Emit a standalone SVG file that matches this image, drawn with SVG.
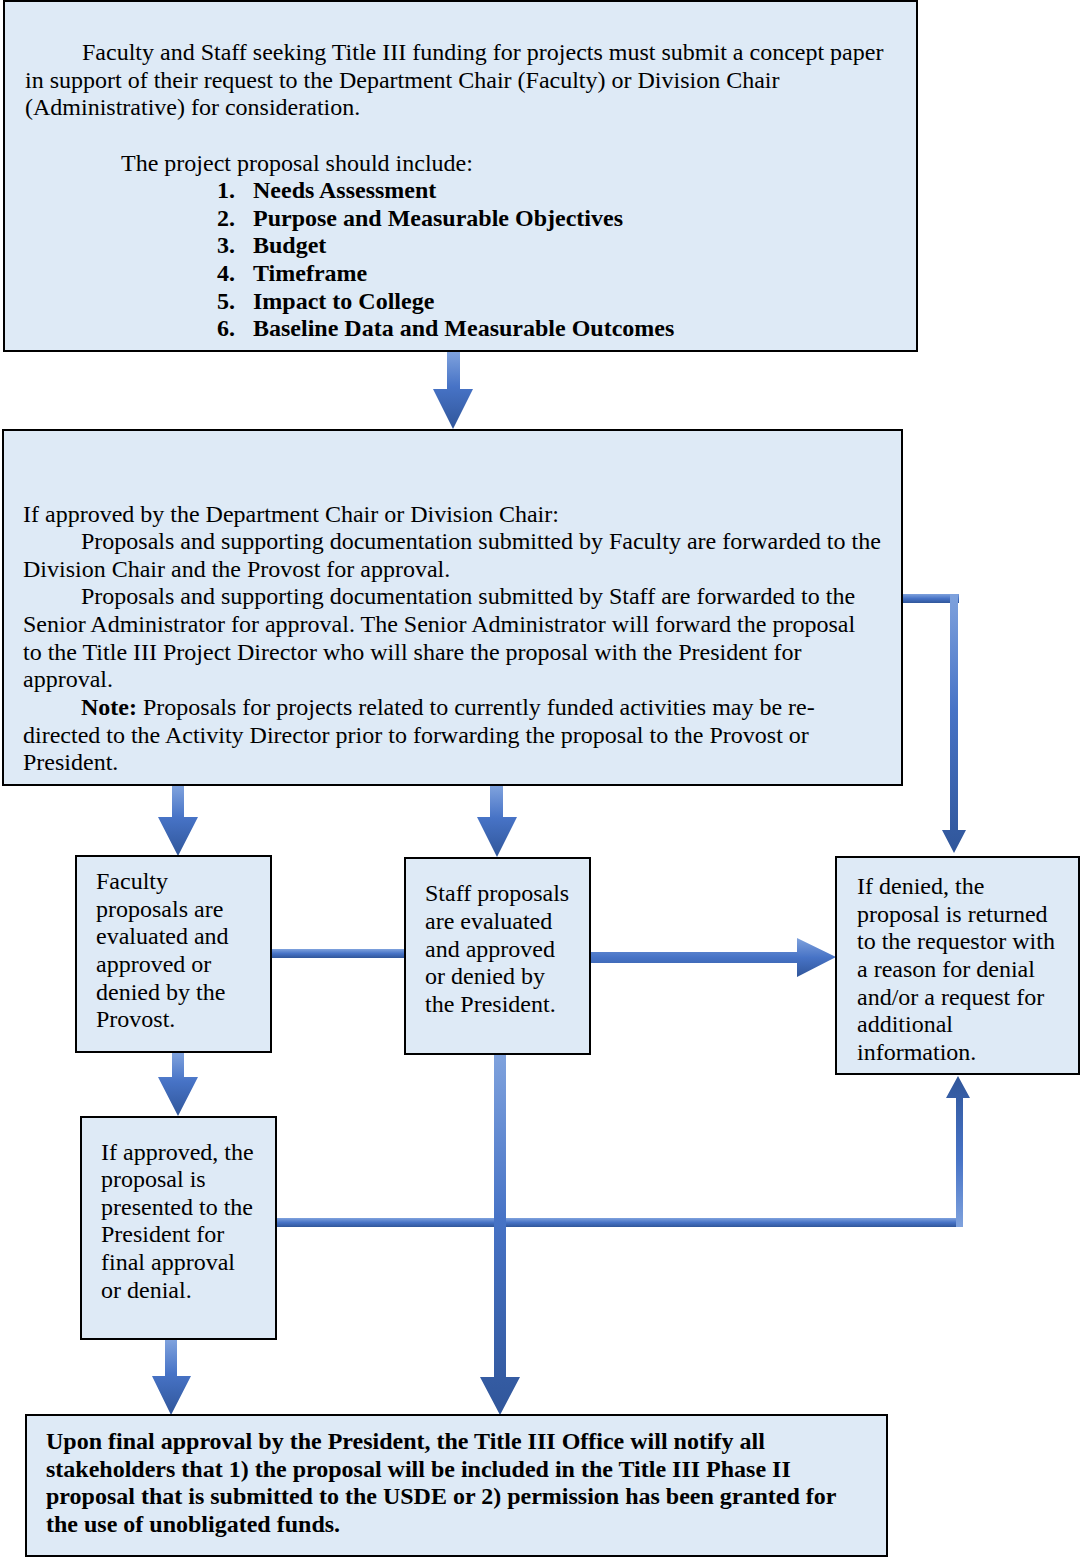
<svg xmlns="http://www.w3.org/2000/svg" width="1080" height="1558" viewBox="0 0 1080 1558">
<defs>
<linearGradient id="gv" x1="0" y1="0" x2="0" y2="1">
<stop offset="0" stop-color="#7fa2dd"/>
<stop offset="0.45" stop-color="#4773c6"/>
<stop offset="1" stop-color="#30569a"/>
</linearGradient>
<linearGradient id="gu" x1="0" y1="1" x2="0" y2="0">
<stop offset="0" stop-color="#7fa2dd"/>
<stop offset="0.45" stop-color="#4773c6"/>
<stop offset="1" stop-color="#30569a"/>
</linearGradient>
<linearGradient id="gh" x1="0" y1="0" x2="0" y2="1">
<stop offset="0" stop-color="#7fa2dd"/>
<stop offset="0.5" stop-color="#4773c6"/>
<stop offset="1" stop-color="#30569a"/>
</linearGradient>
<style>
.box{fill:#deeaf6;stroke:#000;stroke-width:2}
.t{font-family:"Liberation Serif","Times New Roman",serif;font-size:24px;fill:#000}
.b{font-weight:bold}
.av{fill:url(#gv)}
.au{fill:url(#gu)}
.ah{fill:url(#gh)}
</style>
</defs>
<g id="connectors">
<polygon class="av" points="447,352 460,352 460,389 473,389 453,429 433,389 447,389"/>
<rect class="ah" x="903" y="594" width="56" height="9"/>
<polygon class="av" points="950,594 958,594 958,830 966,830 954,853 942,830 950,830"/>
<polygon class="av" points="172,786 184,786 184,817 198,817 178,856 158,817 172,817"/>
<polygon class="av" points="490,786 503,786 503,817 517,817 497,857 477,817 490,817"/>
<rect class="ah" x="271" y="949" width="134" height="9"/>
<polygon class="ah" points="591,952 797,952 797,938 836,957 797,977 797,963 591,963"/>
<polygon class="av" points="172,1053 184,1053 184,1077 198,1077 178,1116 158,1077 172,1077"/>
<polygon class="av" points="165,1340 177,1340 177,1376 191,1376 171,1415 152,1376 165,1376"/>
<rect class="ah" x="277" y="1218" width="686" height="9"/>
<polygon class="au" points="956,1227 963,1227 963,1098 970,1098 958,1076 946,1098 956,1098"/>
<polygon class="av" points="494,1055 506,1055 506,1377 520,1377 500,1415 480,1377 494,1377"/>
</g>
<g id="box1">
<rect class="box" x="4" y="1" width="913" height="350"/>
<text class="t" x="82" y="60">Faculty and Staff seeking Title III funding for projects must submit a concept paper</text>
<text class="t" x="25" y="88">in support of their request to the Department Chair (Faculty) or Division Chair</text>
<text class="t" x="25" y="115">(Administrative) for consideration.</text>
<text class="t" x="121" y="171">The project proposal should include:</text>
<g class="t b">
<text x="217" y="198">1.</text><text x="253" y="198">Needs Assessment</text>
<text x="217" y="226">2.</text><text x="253" y="226">Purpose and Measurable Objectives</text>
<text x="217" y="253">3.</text><text x="253" y="253">Budget</text>
<text x="217" y="281">4.</text><text x="253" y="281">Timeframe</text>
<text x="217" y="309">5.</text><text x="253" y="309">Impact to College</text>
<text x="217" y="336">6.</text><text x="253" y="336">Baseline Data and Measurable Outcomes</text>
</g>
</g>
<g id="box2">
<rect class="box" x="3" y="430" width="899" height="355"/>
<text class="t" x="23" y="522">If approved by the Department Chair or Division Chair:</text>
<text class="t" x="81" y="549">Proposals and supporting documentation submitted by Faculty are forwarded to the</text>
<text class="t" x="23" y="577">Division Chair and the Provost for approval.</text>
<text class="t" x="81" y="604">Proposals and supporting documentation submitted by Staff are forwarded to the</text>
<text class="t" x="23" y="632">Senior Administrator for approval. The Senior Administrator will forward the proposal</text>
<text class="t" x="23" y="660">to the Title III Project Director who will share the proposal with the President for</text>
<text class="t" x="23" y="687">approval.</text>
<text class="t" x="81" y="715"><tspan class="b">Note:</tspan> Proposals for projects related to currently funded activities may be re-</text>
<text class="t" x="23" y="743">directed to the Activity Director prior to forwarding the proposal to the Provost or</text>
<text class="t" x="23" y="770">President.</text>
</g>
<g id="box3">
<rect class="box" x="76" y="856" width="195" height="196"/>
<text class="t" x="96" y="889">Faculty</text>
<text class="t" x="96" y="917">proposals are</text>
<text class="t" x="96" y="944">evaluated and</text>
<text class="t" x="96" y="972">approved or</text>
<text class="t" x="96" y="1000">denied by the</text>
<text class="t" x="96" y="1027">Provost.</text>
</g>
<g id="box4">
<rect class="box" x="405" y="858" width="185" height="196"/>
<text class="t" x="425" y="901">Staff proposals</text>
<text class="t" x="425" y="929">are evaluated</text>
<text class="t" x="425" y="957">and approved</text>
<text class="t" x="425" y="984">or denied by</text>
<text class="t" x="425" y="1012">the President.</text>
</g>
<g id="box5">
<rect class="box" x="836" y="857" width="243" height="217"/>
<text class="t" x="857" y="894">If denied, the</text>
<text class="t" x="857" y="922">proposal is returned</text>
<text class="t" x="857" y="949">to the requestor with</text>
<text class="t" x="857" y="977">a reason for denial</text>
<text class="t" x="857" y="1005">and/or a request for</text>
<text class="t" x="857" y="1032">additional</text>
<text class="t" x="857" y="1060">information.</text>
</g>
<g id="box6">
<rect class="box" x="81" y="1117" width="195" height="222"/>
<text class="t" x="101" y="1160">If approved, the</text>
<text class="t" x="101" y="1187">proposal is</text>
<text class="t" x="101" y="1215">presented to the</text>
<text class="t" x="101" y="1242">President for</text>
<text class="t" x="101" y="1270">final approval</text>
<text class="t" x="101" y="1298">or denial.</text>
</g>
<g id="box7">
<rect class="box" x="26" y="1415" width="861" height="141"/>
<g class="t b">
<text x="46" y="1449">Upon final approval by the President, the Title III Office will notify all</text>
<text x="46" y="1477">stakeholders that 1) the proposal will be included in the Title III Phase II</text>
<text x="46" y="1504">proposal that is submitted to the USDE or 2) permission has been granted for</text>
<text x="46" y="1532">the use of unobligated funds.</text>
</g>
</g>
</svg>
